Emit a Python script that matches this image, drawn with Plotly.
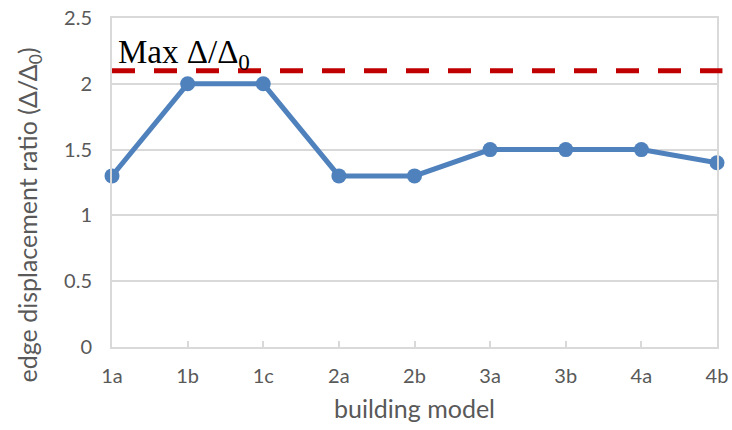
import plotly.graph_objects as go

# Building models and their edge displacement ratios
models = ["1a", "1b", "1c", "2a", "2b", "3a", "3b", "4a", "4b"]
ratios = [1.3, 2.0, 2.0, 1.3, 1.3, 1.5, 1.5, 1.5, 1.4]
max_ratio = 2.1
y_ticks = [0, 0.5, 1, 1.5, 2, 2.5]

grid = "#d9d9d9"
sans = "Lato, 'Open Sans', sans-serif"
tick_font = dict(family=sans, size=20, color="#595959")
title_font = dict(family=sans, size=25, color="#595959")

fig = go.Figure()
fig.add_trace(go.Scatter(
    x=list(range(len(models))), y=ratios, mode="lines+markers",
    line=dict(color="#4f81bd", width=5),
    marker=dict(color="#4f81bd", size=15),
    showlegend=False, cliponaxis=False,
))

# Limit line
fig.add_shape(type="line", xref="paper", yref="y", x0=0, x1=1.009,
              y0=max_ratio, y1=max_ratio,
              line=dict(color="#c00000", width=5, dash="23px,19px"))
fig.add_annotation(xref="paper", yref="y", x=0, y=max_ratio, xshift=4, yshift=-6,
                   xanchor="left", yanchor="bottom", showarrow=False,
                   text="Max Δ/Δ<sub>0</sub>",
                   font=dict(family="Liberation Serif, serif", size=33, color="black"))

# Vertical axis title, centred a little below the middle of the plot
fig.add_annotation(xref="paper", yref="y", x=0, y=1.0, xshift=-83,
                   xanchor="center", yanchor="middle", showarrow=False,
                   textangle=-90,
                   text="edge displacement ratio (Δ/Δ<sub>0</sub>)",
                   font=title_font)

fig.update_layout(
    width=732, height=430,
    margin=dict(l=112, r=15, t=18, b=83),
    paper_bgcolor="white", plot_bgcolor="white",
    xaxis=dict(
        range=[0, len(models) - 1], automargin=False,
        tickmode="array", tickvals=list(range(len(models))), ticktext=models,
        showgrid=False, zeroline=False,
        showline=True, linecolor=grid, linewidth=2, mirror=True,
        ticks="inside", ticklen=6, tickcolor=grid, tickwidth=1.5,
        tickfont=tick_font, ticklabelstandoff=10,
        title=dict(text="building model", standoff=14, font=title_font),
    ),
    yaxis=dict(
        range=[0, 2.5], tickvals=y_ticks, ticktext=[f"{v:g}" for v in y_ticks],
        automargin=False,
        showgrid=True, gridcolor=grid, gridwidth=1.5, zeroline=False,
        showline=True, linecolor=grid, linewidth=2, mirror=True,
        ticks="", tickfont=tick_font, ticklabelstandoff=14,
    ),
)

fig.write_html("out.html")
